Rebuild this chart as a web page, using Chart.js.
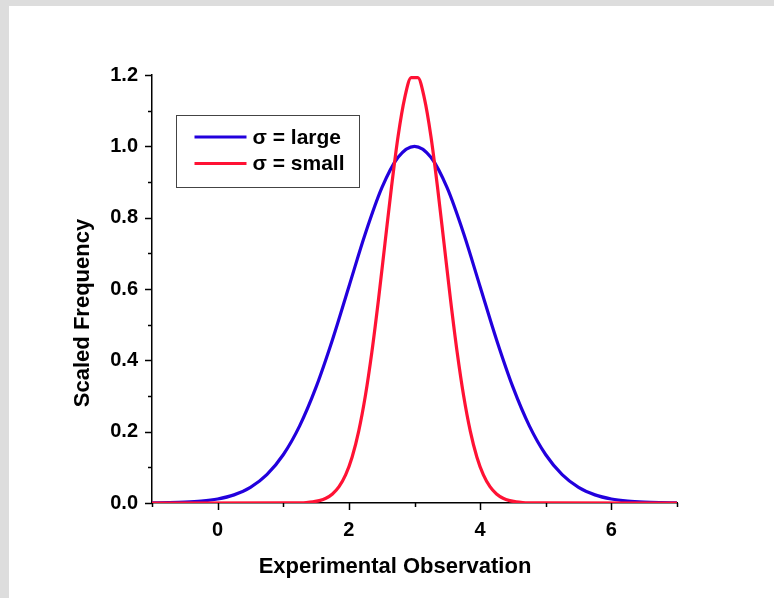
<!DOCTYPE html>
<html>
<head>
<meta charset="utf-8">
<script src="https://cdn.jsdelivr.net/npm/chart.js@4"></script>
<style>
  html, body { margin: 0; padding: 0; background: #dddddd; }
  #wrap { position: absolute; left: 9px; top: 6px; width: 765px; height: 592px; background: #ffffff; }
</style>
</head>
<body>
<div id="wrap"><canvas id="grafico"></canvas></div>
<script>
// Valores
const xLarge = [-1, -0.75, -0.5, -0.25, 0, 0.25, 0.5, 0.75, 1, 1.25, 1.5, 1.75, 2, 2.25, 2.5, 2.75, 3,
  3.25, 3.5, 3.75, 4, 4.25, 4.5, 4.75, 5, 5.25, 5.5, 5.75, 6, 6.25, 6.5, 6.75, 7];
const yLarge = [0.0003, 0.0009, 0.0022, 0.0051, 0.0111, 0.0228, 0.0439, 0.0796, 0.1353, 0.2163, 0.3247, 0.4578, 0.6065, 0.7548, 0.8825, 0.9692, 1.0,
  0.9692, 0.8825, 0.7548, 0.6065, 0.4578, 0.3247, 0.2163, 0.1353, 0.0796, 0.0439, 0.0228, 0.0111, 0.0051, 0.0022, 0.0009, 0.0003];

const xSmall = [-1, 1.05, 1.15, 1.25, 1.35, 1.45, 1.55, 1.65, 1.75, 1.85, 1.95, 2.05, 2.15, 2.25, 2.35, 2.45, 2.55, 2.65, 2.75, 2.85, 2.95,
  3.05, 3.15, 3.25, 3.35, 3.45, 3.55, 3.65, 3.75, 3.85, 3.95, 4.05, 4.15, 4.25, 4.35, 4.45, 4.55, 4.65, 4.75, 4.85, 4.95, 7];
const ySmall = [0, 0.0001, 0.0003, 0.0006, 0.0014, 0.0032, 0.0067, 0.0133, 0.0253, 0.0458, 0.0788, 0.1292, 0.2016, 0.2992, 0.4228, 0.5686, 0.7278, 0.8868, 1.0284, 1.1352, 1.1926,
  1.1926, 1.1352, 1.0284, 0.8868, 0.7278, 0.5686, 0.4228, 0.2992, 0.2016, 0.1292, 0.0788, 0.0458, 0.0253, 0.0133, 0.0067, 0.0032, 0.0014, 0.0006, 0.0003, 0.0001, 0];

const seriesLabels = ["\u03c3 = large", "\u03c3 = small"];
const xTitle = "Experimental Observation";
const yTitle = "Scaled Frequency";

const FONT = "'Liberation Sans', Arial, sans-serif";

function toPoints(xs, ys) {
  return xs.map((x, i) => ({ x: x, y: ys[i] }));
}

// Marcas dos eixos (maiores e menores) desenhadas nas escalas
const tickMarks = {
  id: "tickMarks",
  afterDraw(chart) {
    const ctx = chart.ctx;
    const area = chart.chartArea;
    ctx.save();
    ctx.strokeStyle = "#000";
    ctx.lineWidth = 1.5;
    const sy = chart.scales.y;
    sy.ticks.forEach((t) => {
      const py = Math.round(sy.getPixelForValue(t.value)) + 0.5;
      const major = Math.round(t.value * 10) % 2 === 0;
      ctx.beginPath();
      ctx.moveTo(area.left - (major ? 7 : 4), py);
      ctx.lineTo(area.left, py);
      ctx.stroke();
    });
    const sx = chart.scales.x;
    sx.ticks.forEach((t) => {
      const px = Math.round(sx.getPixelForValue(t.value)) + 0.5;
      const major = Math.round(t.value) % 2 === 0;
      ctx.beginPath();
      ctx.moveTo(px, area.bottom);
      ctx.lineTo(px, area.bottom + (major ? 7 : 4));
      ctx.stroke();
    });
    ctx.restore();
  },
};

// Títulos dos eixos e legenda com caixa
const extras = {
  id: "extras",
  afterDraw(chart) {
    const ctx = chart.ctx;
    const area = chart.chartArea;
    ctx.save();
    ctx.fillStyle = "#000";
    ctx.font = "bold 22px " + FONT;
    ctx.textAlign = "center";
    ctx.textBaseline = "middle";
    ctx.fillText(xTitle, area.left + 243, area.bottom + 64);
    ctx.save();
    ctx.translate(area.left - 69, area.top + 238);
    ctx.rotate(-Math.PI / 2);
    ctx.fillText(yTitle, 0, 0);
    ctx.restore();

    // legenda
    const bx = area.left + 24.5, by = area.top + 40.5;
    ctx.strokeStyle = "#444";
    ctx.lineWidth = 1;
    ctx.strokeRect(bx, by, 183, 72);
    ctx.textAlign = "left";
    ctx.font = "bold 21px " + FONT;
    chart.data.datasets.forEach((ds, i) => {
      const ly = by + 21.5 + i * 26.5;
      ctx.strokeStyle = ds.borderColor;
      ctx.lineWidth = 3;
      ctx.beginPath();
      ctx.moveTo(bx + 18, ly);
      ctx.lineTo(bx + 70, ly);
      ctx.stroke();
      ctx.fillStyle = "#000";
      ctx.fillText(ds.label, bx + 76, ly + 1);
    });
    ctx.restore();
  },
};

const tickFont = { family: FONT, size: 20, weight: "bold" };

new Chart(document.getElementById("grafico").getContext("2d"), {
  type: "line",
  data: {
    datasets: [
      {
        label: seriesLabels[0],
        data: toPoints(xLarge, yLarge),
        borderColor: "#2200dd",
        borderWidth: 3.2,
        pointRadius: 0,
        cubicInterpolationMode: "monotone",
        order: 1,
      },
      {
        label: seriesLabels[1],
        data: toPoints(xSmall, ySmall),
        borderColor: "#ff1234",
        borderWidth: 3.2,
        pointRadius: 0,
        cubicInterpolationMode: "monotone",
        order: 0,
      },
    ],
  },
  options: {
    responsive: true,
    maintainAspectRatio: false,
    animation: false,
    layout: { padding: { top: 69, right: 97, left: 0, bottom: 0 } },
    plugins: { legend: { display: false }, tooltip: { enabled: false } },
    scales: {
      x: {
        type: "linear",
        min: -1,
        max: 7,
        grid: { display: false, drawTicks: false },
        border: { display: true, color: "#000", width: 1.5 },
        ticks: {
          stepSize: 1,
          padding: 15,
          color: "#000",
          font: tickFont,
          maxRotation: 0,
          autoSkip: false,
          callback: (v) => (Math.round(v) % 2 === 0 ? String(v) : ""),
        },
        afterFit: (s) => { s.height = 95; },
      },
      y: {
        min: 0,
        max: 1.2,
        grid: { display: false, drawTicks: false },
        border: { display: true, color: "#000", width: 1.5 },
        ticks: {
          stepSize: 0.1,
          padding: 14,
          color: "#000",
          font: tickFont,
          autoSkip: false,
          callback: (v) => (Math.round(v * 10) % 2 === 0 ? v.toFixed(1) : ""),
        },
        afterFit: (s) => { s.width = 143; },
      },
    },
  },
  plugins: [tickMarks, extras],
});
</script>
</body>
</html>
